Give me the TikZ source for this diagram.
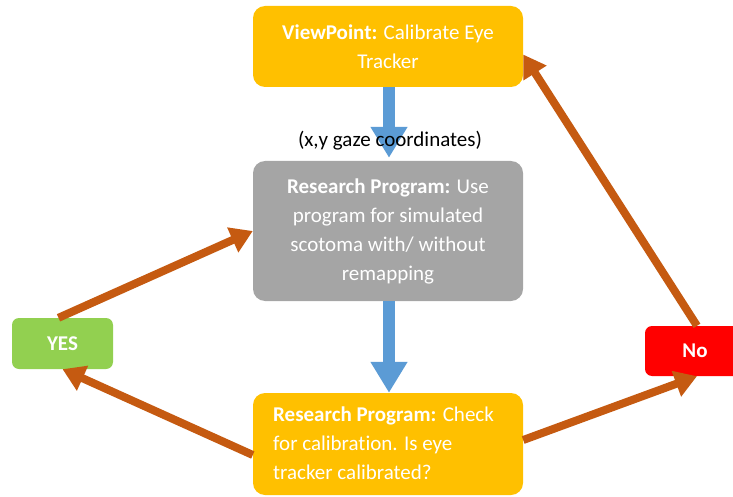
\documentclass[tikz,border=0pt]{standalone}
\usepackage{fontspec}
\setmainfont{Carlito}[Ligatures=NoCommon]
\usetikzlibrary{arrows.meta}
\definecolor{gold}{HTML}{FFC000}
\definecolor{greybox}{HTML}{A5A5A5}
\definecolor{yesgreen}{HTML}{92D050}
\definecolor{nored}{HTML}{FF0000}
\definecolor{flowblue}{HTML}{5B9BD5}
\definecolor{rust}{HTML}{C55A11}
\tikzset{
  box/.style={rectangle, rounded corners=12pt, minimum width=270pt, inner sep=0pt,
    text=white, font=\fontsize{21}{29}\selectfont},
  tag/.style={rectangle, rounded corners=7pt, inner sep=0pt, text=white,
    font=\fontsize{21}{24}\selectfont\bfseries},
  bluearrow/.style={draw=flowblue, line width=12pt,
    -{Triangle[width=35pt,length=31pt,fill=flowblue]}},
  rustarrow/.style={draw=rust, line width=8pt,
    -{Triangle[width=26pt,length=22pt,fill=rust]}},
}
\begin{document}
\begin{tikzpicture}[x=1pt,y=-1pt]
\useasboundingbox (0,0) rectangle (733,497);
\node[box, fill=gold, minimum height=81pt, align=center] (vp) at (388,46.5)
  {\textbf{ViewPoint:} Calibrate Eye\\Tracker};
\node[box, fill=greybox, minimum height=140pt, align=center] (rp) at (388,231)
  {\textbf{Research Program:} Use\\program for simulated\\scotoma with/ without\\remapping};
\node[box, fill=gold, minimum height=102pt] (cc) at (388,444) {};
\node[font=\fontsize{21}{29}\selectfont, text=white, align=left, anchor=north west, inner sep=0pt]
  (cctext) at (273,407)
  {\textbf{Research Program:} Check\\for calibration. Is eye\\tracker calibrated?};
\node[tag, fill=yesgreen, minimum width=101pt, minimum height=51pt] (yes) at (62.5,343.5) {YES};
\node[tag, fill=nored, minimum width=100pt, minimum height=50pt] (no) at (695,351) {No};

\draw[bluearrow, shorten >=3pt] ([xshift=1pt]vp.south) -- ([xshift=1pt]rp.north);
\draw[bluearrow] ([xshift=1pt]rp.south) -- ([xshift=1pt]cc.north);

\draw[rustarrow] ([yshift=-11pt]cc.west) -- (yes.south);
\draw[rustarrow] ([xshift=-4pt]yes.north) -- (rp.west);
\draw[rustarrow] ([yshift=4pt]cc.east) -- ([xshift=2pt]no.south);
\draw[rustarrow] ([xshift=2pt]no.north) -- ([yshift=-8pt]vp.east);

\node[font=\fontsize{21}{24}\selectfont, text=black] (gaze) at (390,141) {(x,y gaze coordinates)};
\end{tikzpicture}
\end{document}
